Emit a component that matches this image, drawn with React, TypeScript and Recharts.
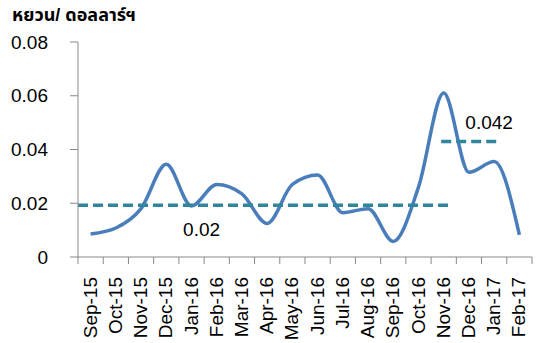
import React from 'react';
import { LineChart, Line, XAxis, YAxis, ReferenceLine, ReferenceDot } from 'recharts';

const months = [
  'Sep-15', 'Oct-15', 'Nov-15', 'Dec-15', 'Jan-16', 'Feb-16', 'Mar-16', 'Apr-16', 'May-16',
  'Jun-16', 'Jul-16', 'Aug-16', 'Sep-16', 'Oct-16', 'Nov-16', 'Dec-16', 'Jan-17', 'Feb-17',
];
const rate = [
  0.0086, 0.0108, 0.018, 0.0345, 0.019, 0.027, 0.0235, 0.0125, 0.027,
  0.0305, 0.0165, 0.018, 0.0058, 0.026, 0.061, 0.0315, 0.0355, 0.0082,
];
const yTicks = [0, 0.02, 0.04, 0.06, 0.08];

// average segments, x in category units from the left edge of the plot
const avgSegments = [
  { from: 0, to: 14.75, value: 0.0193 },
  { from: 14.4, to: 16.6, value: 0.043 },
];
const avgLabels = [
  { x: 4.9, y: 0.0102, text: '0.02' },
  { x: 16.3, y: 0.0502, text: '0.042' },
];

const title = 'หยวน/ ดอลลาร์ฯ';

// each month sits in the middle of its slot
const data = months.map((m, i) => ({ pos: i + 0.5, month: m, rate: rate[i] }));
const monthTicks = data.map((d) => d.pos);

const FONT = '"Liberation Sans", Arial, "Noto Sans Thai", "Noto Sans", sans-serif';
const AXIS = '#898989';
const PLOT_W = 454;
const BAND = PLOT_W / months.length;

const MonthTick = (props: any) => {
  const { x, y, index } = props;
  return (
    <g>
      <line x1={x - BAND / 2} y1={y} x2={x - BAND / 2} y2={y + 7} stroke={AXIS} />
      {index === months.length - 1 && (
        <line x1={x + BAND / 2} y1={y} x2={x + BAND / 2} y2={y + 7} stroke={AXIS} />
      )}
      <text
        x={x + 6}
        y={y + 20}
        transform={`rotate(-90, ${x + 6}, ${y + 20})`}
        textAnchor="end"
        fontSize={19}
        fontFamily={FONT}
        fill="#000"
      >
        {months[index]}
      </text>
    </g>
  );
};

export default function App() {
  return (
    <div style={{ position: 'absolute', left: 0, top: 0, width: 540, height: 343, background: '#fff' }}>
      <div
        style={{
          position: 'absolute',
          left: 12,
          top: 2,
          fontFamily: FONT,
          fontWeight: 'bold',
          fontSize: 18,
          color: '#000',
          whiteSpace: 'nowrap',
        }}
      >
        {title}
      </div>
      <LineChart width={540} height={343} data={data} margin={{ top: 42, right: 8, bottom: 0, left: 0 }}>
        <XAxis
          dataKey="pos"
          type="number"
          domain={[0, 18]}
          allowDataOverflow
          ticks={monthTicks}
          interval={0}
          height={86}
          tickLine={false}
          tickSize={0}
          tickMargin={0}
          axisLine={{ stroke: AXIS }}
          tick={<MonthTick />}
        />
        <YAxis
          width={78}
          domain={[0, 0.08]}
          ticks={yTicks}
          interval={0}
          tickSize={8}
          tickMargin={22}
          axisLine={{ stroke: AXIS }}
          tickLine={{ stroke: AXIS }}
          tick={{ fontSize: 19, fill: '#000', fontFamily: FONT }}
        />
        <Line
          dataKey="rate"
          type="monotone"
          stroke="#4A7EBB"
          strokeWidth={3.5}
          dot={false}
          isAnimationActive={false}
        />
        {avgSegments.map((s, i) => (
          <ReferenceLine
            key={i}
            segment={[{ x: s.from, y: s.value }, { x: s.to, y: s.value }]}
            stroke="#31859C"
            strokeWidth={3.5}
            strokeDasharray="10 5"
          />
        ))}
        {avgLabels.map((l, i) => (
          <ReferenceDot
            key={`l${i}`}
            x={l.x}
            y={l.y}
            r={0}
            fill="none"
            stroke="none"
            label={{ value: l.text, position: 'center', fontSize: 19, fill: '#000', fontFamily: FONT }}
          />
        ))}
      </LineChart>
    </div>
  );
}
